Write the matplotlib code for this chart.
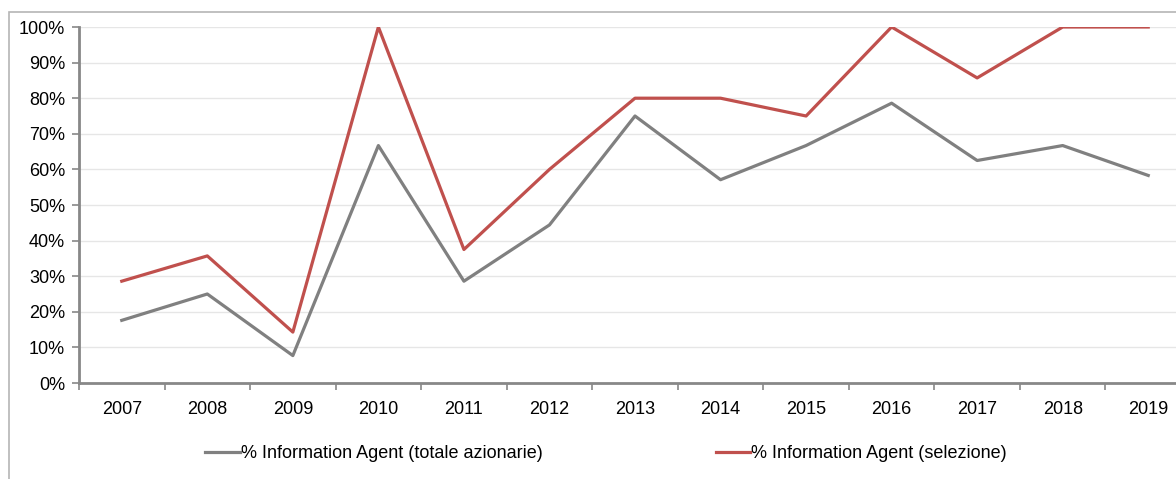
import numpy as np
import matplotlib.pyplot as plt
from matplotlib.patches import Rectangle

anni = ["2007", "2008", "2009", "2010", "2011", "2012", "2013",
        "2014", "2015", "2016", "2017", "2018", "2019"]
totale = [17.6, 25.0, 7.7, 66.7, 28.6, 44.4, 75.0, 57.1, 66.7, 78.6, 62.5, 66.7, 58.3]
selezione = [28.6, 35.7, 14.3, 100.0, 37.5, 60.0, 80.0, 80.0, 75.0, 100.0, 85.7, 100.0, 100.0]

plt.rcParams['font.family'] = ['Liberation Sans', 'DejaVu Sans']

fig = plt.figure(figsize=(11.76, 4.79), dpi=100)

# cornice esterna
fig.patches.append(Rectangle((9 / 1176, -0.1), 1.2, 1.1 - 12 / 479,
                             transform=fig.transFigure, fill=False,
                             edgecolor="#b5b5b5", linewidth=1.2))

ax = fig.add_axes([79 / 1176, 96 / 479, 1112 / 1176, 356 / 479])
x = np.arange(len(anni))
ax.plot(x, totale, color="#808080", linewidth=2.3,
        label="% Information Agent (totale azionarie)")
ax.plot(x, selezione, color="#C0504D", linewidth=2.3,
        label="% Information Agent (selezione)")

ax.set_xlim(-0.5, len(anni) - 0.5)
ax.set_ylim(0, 100)
ax.set_yticks(np.arange(0, 101, 10))
ax.set_yticklabels([f"{v}%" for v in range(0, 101, 10)], fontsize=13)
ax.set_xticks(x)
ax.set_xticklabels(anni, fontsize=13)
ax.tick_params(axis="x", length=0, pad=13)
ax.set_xticks(np.arange(-0.5, len(anni), 1), minor=True)
ax.tick_params(axis="x", which="minor", length=5, width=1.2, color="#888888", direction="out")
ax.tick_params(axis="y", length=5, width=1.2, color="#888888", pad=5)

ax.grid(axis="y", color="#e6e6e6", linewidth=1)
ax.set_axisbelow(True)
for s in ["top", "right"]:
    ax.spines[s].set_visible(False)
for s in ["left", "bottom"]:
    ax.spines[s].set_color("#888888")
    ax.spines[s].set_linewidth(2)
ax.spines["left"].set_zorder(5)

fig.legend(loc="center", bbox_to_anchor=(606 / 1176, 1 - 454 / 479), ncol=2,
           frameon=False, handlelength=1.9, handletextpad=0.05,
           columnspacing=9.6, prop={'family': ['Liberation Sans', 'DejaVu Sans'], 'size': 13})

fig.savefig("out.png", dpi=100)
